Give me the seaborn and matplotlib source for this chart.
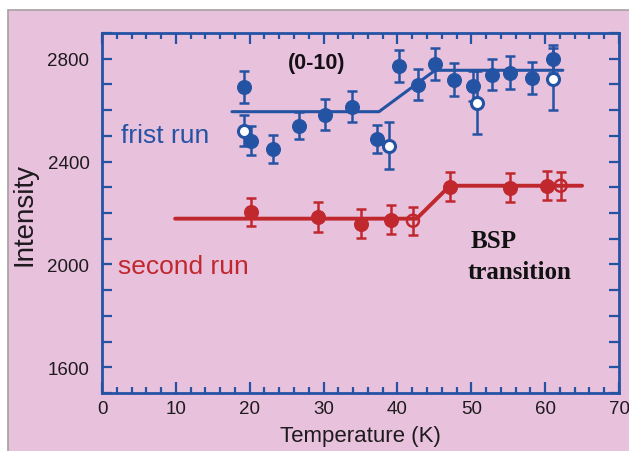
import matplotlib
matplotlib.use("Agg")
import matplotlib.pyplot as plt
from matplotlib.patches import Rectangle
from matplotlib.ticker import MultipleLocator
import pandas as pd
import seaborn as sns

# first run (blue)
run1_T = [19.2, 20.2, 23.2, 26.7, 30.2, 33.8, 37.2, 40.2, 42.8, 45.1, 47.7, 50.2, 52.8, 55.2, 58.2, 61.1]
run1_I = [2691, 2481, 2450, 2539, 2582, 2613, 2489, 2773, 2699, 2781, 2718, 2695, 2738, 2746, 2726, 2800]
run1_err = [62, 56, 55, 53, 60, 61, 55, 62, 60, 62, 64, 58, 60, 64, 62, 55]
run1_open_T = [19.2, 38.9, 50.8, 61.1]
run1_open_I = [2520, 2462, 2629, 2722]
run1_open_err = [60, 92, 123, 120]
run1_fit_T = [17.6, 37.5, 45.1, 62.4]
run1_fit_I = [2594, 2594, 2755, 2755]

# second run (red)
run2_T = [20.2, 29.2, 35.1, 39.1, 47.1, 55.2, 60.2]
run2_I = [2205, 2185, 2158, 2174, 2302, 2298, 2306]
run2_err = [55, 57, 56, 57, 57, 57, 57]
run2_open_T = [42.1, 62.1]
run2_open_I = [2170, 2306]
run2_open_err = [55, 54]
run2_fit_T = [9.9, 42.6, 47.1, 65.0]
run2_fit_I = [2178, 2178, 2306, 2306]

BLUE = "#2553a3"
RED = "#c0282e"
PINK = "#e8c1dd"
INK = "#1e1a1e"

sns.set_theme(style="ticks")
plt.rcParams["font.family"] = ["Liberation Sans", "DejaVu Sans"]

fig = plt.figure(figsize=(6.29, 4.52), dpi=100, facecolor="white")
fig.patches.append(Rectangle((8 / 629, -0.01), 1.0, (452 - 11) / 452 + 0.01,
                             transform=fig.transFigure, facecolor=PINK,
                             edgecolor="#a8a0a0", linewidth=1.2, zorder=-5))
ax = fig.add_axes([102 / 629, 58 / 452, 517 / 629, 360 / 452])
ax.set_facecolor(PINK)

# step fits
fit1 = pd.DataFrame({"T": run1_fit_T, "I": run1_fit_I})
fit2 = pd.DataFrame({"T": run2_fit_T, "I": run2_fit_I})
sns.lineplot(data=fit1, x="T", y="I", color=BLUE, linewidth=2.2, sort=False, ax=ax, zorder=2)
sns.lineplot(data=fit2, x="T", y="I", color=RED, linewidth=2.8, sort=False, ax=ax, zorder=2)

ekw = dict(fmt="none", capsize=3.5, elinewidth=1.8, capthick=1.8, zorder=3)
ax.errorbar(run1_T, run1_I, yerr=run1_err, ecolor=BLUE, **ekw)
ax.errorbar(run1_open_T, run1_open_I, yerr=run1_open_err, ecolor=BLUE, **ekw)
ax.errorbar(run2_T, run2_I, yerr=run2_err, ecolor=RED, **ekw)
ax.errorbar(run2_open_T, run2_open_I, yerr=run2_open_err, ecolor=RED, **ekw)

sns.scatterplot(x=run1_T, y=run1_I, color=BLUE, s=100, edgecolor=BLUE, ax=ax, zorder=4)
sns.scatterplot(x=run1_open_T, y=run1_open_I, color="white", s=75, edgecolor=BLUE,
                linewidth=2.2, ax=ax, zorder=4)
sns.scatterplot(x=run2_T, y=run2_I, color=RED, s=100, edgecolor=RED, ax=ax, zorder=4)
sns.scatterplot(x=run2_open_T, y=run2_open_I, facecolor="none", s=75, edgecolor=RED,
                linewidth=1.8, ax=ax, zorder=4)

ax.set_xlim(0, 70)
ax.set_ylim(1500, 2900)
ax.xaxis.set_major_locator(MultipleLocator(10))
ax.xaxis.set_minor_locator(MultipleLocator(2))
ax.yaxis.set_major_locator(MultipleLocator(400))
ax.yaxis.set_minor_locator(MultipleLocator(100))
ax.set_yticks([1600, 2000, 2400, 2800])

for side in ["left", "right", "top", "bottom"]:
    ax.spines[side].set_visible(True)
    ax.spines[side].set_color(BLUE)
    ax.spines[side].set_linewidth(2.0)

ax.tick_params(which="both", direction="in", top=True, right=True, color=BLUE,
               width=1.6, labelcolor=INK, labelsize=13.5)
ax.tick_params(axis="x", which="major", length=8, pad=5)
ax.tick_params(axis="x", which="minor", length=4)
ax.tick_params(axis="y", which="both", length=7, pad=9)

ax.set_xlabel("Temperature (K)", fontsize=16, color=INK, labelpad=6)
ax.set_ylabel("Intensity", fontsize=20, color=INK, labelpad=7)

ax.text(29.0, 2784, "(0-10)", fontsize=15.5, fontweight="bold", ha="center", va="center",
        color="#151015")
ax.text(8.6, 2504, "frist run", fontsize=19, color=BLUE, ha="center", va="center")
ax.text(11.0, 1995, "second run", fontsize=19, color=RED, ha="center", va="center")
ax.text(53.1, 2092, "BSP", fontsize=18, fontweight="bold", family="Liberation Serif",
        ha="center", va="center", color="#111")
ax.text(56.5, 1971, "transition", fontsize=18, fontweight="bold", family="Liberation Serif",
        ha="center", va="center", color="#111")

fig.savefig("out.png", dpi=100, facecolor=fig.get_facecolor())
